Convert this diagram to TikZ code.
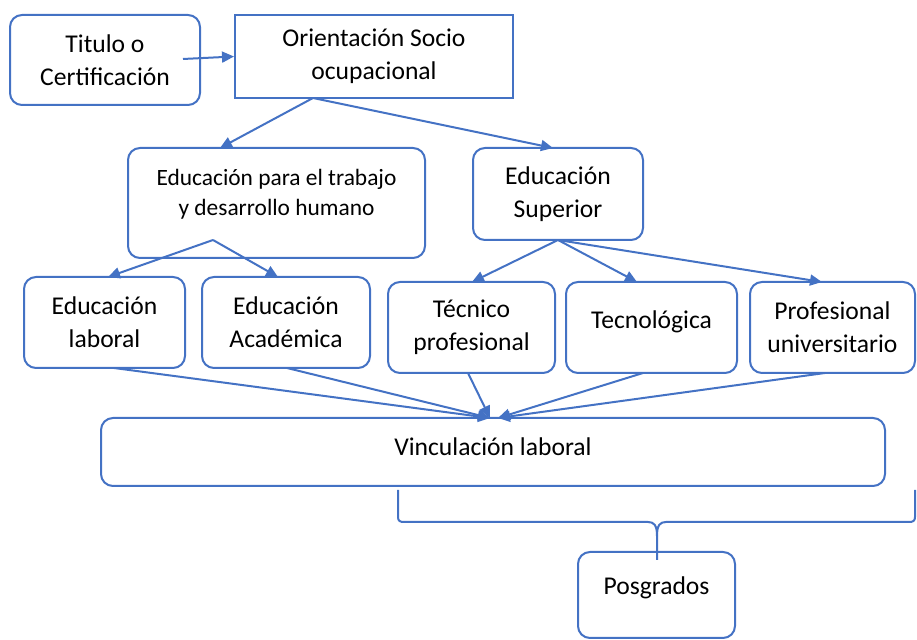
\documentclass[tikz,border=0pt]{standalone}
\usepackage{fontspec}
\setmainfont{Carlito}
\usetikzlibrary{arrows.meta}
\definecolor{azul}{HTML}{4472C4}

\begin{document}
\begin{tikzpicture}[x=0.5pt,y=-0.5pt, >={Triangle[length=6pt,width=5.5pt]},
  caja/.style={draw=azul, line width=1pt, rounded corners=6pt, inner sep=0pt, align=center,
    font=\fontsize{12.8}{16.5}\selectfont},
  flecha/.style={->, azul, line width=1pt}]
\useasboundingbox (0,0) rectangle (917,640);
\node (tit) at (105,60) [caja, minimum width=95pt, minimum height=45pt] {Titulo o\\Certificación};
\node (ori) at (374,56.5) [caja, sharp corners, minimum width=139pt, minimum height=41.5pt] {Orientación Socio\\ocupacional};
\node (etdh) at (276.5,203) [caja, minimum width=148.5pt, minimum height=55pt, text depth=10.5pt,
  font=\fontsize{11.7}{15}\selectfont] {Educación para el trabajo\\y desarrollo humano};
\node (esup) at (558,194) [caja, minimum width=85pt, minimum height=46pt] {Educación\\Superior};
\node (elab) at (104.5,322.5) [caja, minimum width=80.5pt, minimum height=45.5pt] {Educación\\laboral};
\node (eaca) at (286,322.5) [caja, minimum width=84pt, minimum height=45.5pt] {Educación\\Académica};
\node (tec) at (471.5,327.5) [caja, minimum width=83.5pt, minimum height=45.5pt] {Técnico\\profesional};
\node (tecn) at (651.5,327.5) [caja, minimum width=85.5pt, minimum height=45.5pt, text depth=8pt] {Tecnológica};
\node (prof) at (832.5,327.5) [caja, minimum width=82.5pt, minimum height=45.5pt] {Profesional\\universitario};
\node (vin) at (493,452) [caja, minimum width=392pt, minimum height=34pt, text depth=5pt] {Vinculación laboral};
\node (pos) at (656.5,595) [caja, minimum width=78.5pt, minimum height=43pt, text depth=9.2pt] {Posgrados};
% puntos de salida
\coordinate (t0) at (183,59);
\coordinate (o0) at (313,98);
\coordinate (o1) at (220,148);
\coordinate (o2) at (553,148);
\coordinate (e0) at (213,240);
\coordinate (e1) at (108,277);
\coordinate (e2) at (278,277);
\coordinate (s0) at (558,240);
\coordinate (s1) at (472,282);
\coordinate (s2) at (637,282);
\coordinate (s3) at (822,282);
\coordinate (b1) at (114,368);
\coordinate (b2) at (287,368);
\coordinate (b3) at (468,373);
\coordinate (b4) at (643,373);
\coordinate (b5) at (825,373);
\coordinate (v1) at (490,418);
\coordinate (v2) at (498,418);
\coordinate (p0) at (657,560);
\draw[flecha] (t0) -- (ori.west);
\draw[flecha] (o0) -- (o1);
\draw[flecha] (o0) -- (o2);
\draw[flecha] (e0) -- (e1);
\draw[flecha] (e0) -- (e2);
\draw[flecha] (s0) -- (s1);
\draw[flecha] (s0) -- (s2);
\draw[flecha] (s0) -- (s3);
\draw[flecha] (b1) -- (v1);
\draw[flecha] (b2) -- (v1);
\draw[flecha] (b3) -- (v1);
\draw[flecha] (b4) -- (v2);
\draw[flecha] (b5) -- (v2);
% llave
\draw[azul, line width=1pt] (398,490) -- (398,517) .. controls (398,521) and (400,522) .. (404,522)
  -- (648,522) .. controls (654,522) and (657,525) .. (657,536) -- (p0);
\draw[azul, line width=1pt] (915,490) -- (915,517) .. controls (915,521) and (913,522) .. (909,522)
  -- (666,522) .. controls (660,522) and (657,525) .. (657,536);
\end{tikzpicture}
\end{document}
